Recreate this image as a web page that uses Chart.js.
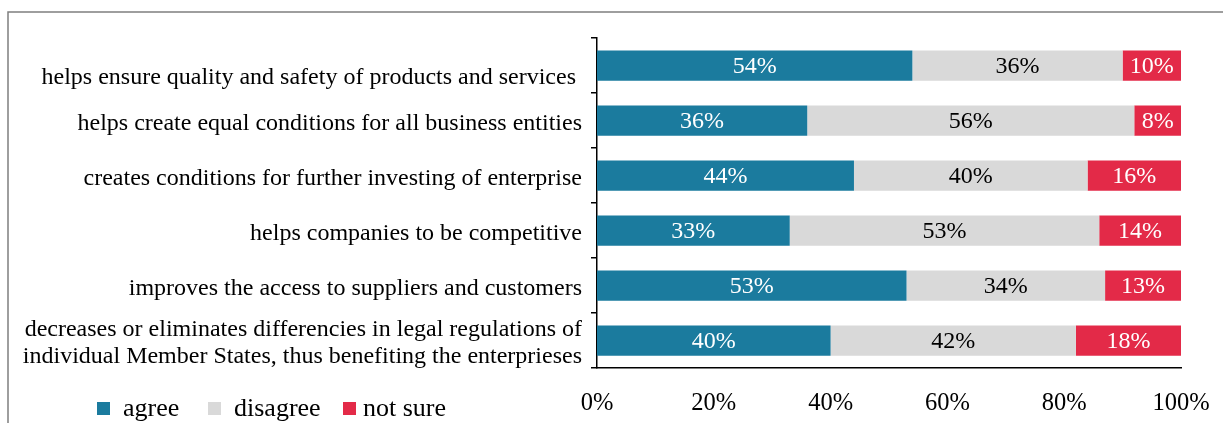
<!DOCTYPE html>
<html>
<head>
<meta charset="utf-8">
<script src="https://cdn.jsdelivr.net/npm/chart.js@4/dist/chart.umd.min.js"></script>
<style>
  html, body { margin: 0; padding: 0; background: #fff; }
  #wrap { width: 1223px; height: 423px; position: relative; }
</style>
</head>
<body>
<div id="wrap"><canvas id="c"></canvas></div>
<script>
// statements, top to bottom (first one sits a bit low in the original, hence the empty line)
var statements = [
	["", "helps ensure quality and safety of products and services "],
	"helps create equal conditions for all business entities",
	"creates conditions for further investing of enterprise",
	"helps companies to be competitive",
	"improves the access to suppliers and customers",
	["decreases or eliminates differencies in legal regulations of", "individual Member States, thus benefiting the enterprieses"]
];
var agree    = [54, 36, 44, 33, 53, 40];
var disagree = [36, 56, 40, 53, 34, 42];
var notSure  = [10, 8, 16, 14, 13, 18];
var seriesNames = ["agree", "disagree", "not sure"];
var xTicks = [0, 20, 40, 60, 80, 100];

var colors = ["#1b7b9e", "#d9d9d9", "#e32a48"];
var labelColors = ["#ffffff", "#000000", "#ffffff"];
var serif = "'Liberation Serif', 'Times New Roman', serif";

// frame around the chart (right side runs off the picture)
var framePlugin = {
	id: "frame",
	beforeDraw: function(chart) {
		var ctx = chart.ctx;
		ctx.save();
		ctx.strokeStyle = "#7f7f7f";
		ctx.lineWidth = 1.5;
		ctx.beginPath();
		ctx.moveTo(8, 430);
		ctx.lineTo(8, 12);
		ctx.lineTo(1240, 12);
		ctx.stroke();
		ctx.restore();
	}
};

// percentage labels in the middle of each segment
var valueLabels = {
	id: "valueLabels",
	afterDatasetsDraw: function(chart) {
		var ctx = chart.ctx;
		ctx.save();
		ctx.font = "24px " + serif;
		ctx.textAlign = "center";
		ctx.textBaseline = "middle";
		chart.data.datasets.forEach(function(ds, di) {
			var meta = chart.getDatasetMeta(di);
			meta.data.forEach(function(bar, i) {
				var x = (bar.x + bar.base) / 2;
				ctx.fillStyle = labelColors[di];
				ctx.fillText(ds.data[i] + "%", x, bar.y + 1);
			});
		});
		ctx.restore();
	}
};

// legend in the lower left corner
var legendPlugin = {
	id: "bottomLegend",
	afterDraw: function(chart) {
		var ctx = chart.ctx;
		var pos = [97, 208, 343];
		ctx.save();
		ctx.font = "26px " + serif;
		ctx.textBaseline = "middle";
		chart.data.datasets.forEach(function(ds, di) {
			ctx.fillStyle = ds.backgroundColor;
			ctx.fillRect(pos[di], 402, 13, 13);
			ctx.fillStyle = "#000";
			ctx.fillText(ds.label, pos[di] + (di == 2 ? 20 : 26), 409);
		});
		ctx.restore();
	}
};

var datasets = [agree, disagree, notSure].map(function(vals, i) {
	return {
		label: seriesNames[i],
		data: vals,
		backgroundColor: colors[i],
		borderWidth: 0,
		categoryPercentage: 1,
		barPercentage: 0.55
	};
});

new Chart(document.getElementById("c"), {
	type: "bar",
	data: { labels: statements, datasets: datasets },
	options: {
		indexAxis: "y",
		responsive: true,
		maintainAspectRatio: false,
		animation: false,
		layout: { padding: { left: 0, right: 42, top: 38, bottom: 0 } },
		plugins: {
			legend: { display: false },
			tooltip: { enabled: false }
		},
		scales: {
			x: {
				stacked: true,
				min: 0,
				max: 100,
				afterBuildTicks: function(scale) {
					scale.ticks = xTicks.map(function(v) { return { value: v }; });
				},
				afterFit: function(scale) {
					scale.height = 55;
					scale.paddingLeft = 0;
					scale.paddingRight = 0;
				},
				grid: { display: false, drawTicks: false },
				border: { display: true, color: "#000", width: 1.5 },
				ticks: {
					padding: 21,
					maxRotation: 0,
					color: "#000",
					font: { family: serif, size: 24.5 },
					callback: function(v) { return v + "%"; }
				}
			},
			y: {
				stacked: true,
				afterFit: function(scale) {
					scale.width = 597;
					scale.paddingTop = 0;
					scale.paddingBottom = 0;
				},
				grid: {
					display: true,
					offset: true,
					drawOnChartArea: false,
					drawTicks: true,
					tickLength: 6,
					color: "#000",
					lineWidth: 1.5
				},
				border: { display: true, color: "#000", width: 1.5 },
				ticks: {
					autoSkip: false,
					padding: 9,
					labelOffset: 3,
					color: "#000",
					font: function(c) {
						return { family: serif, size: 24, lineHeight: c.index === 0 ? 0.75 : 1.12 };
					}
				}
			}
		}
	},
	plugins: [framePlugin, valueLabels, legendPlugin]
});
</script>
</body>
</html>
